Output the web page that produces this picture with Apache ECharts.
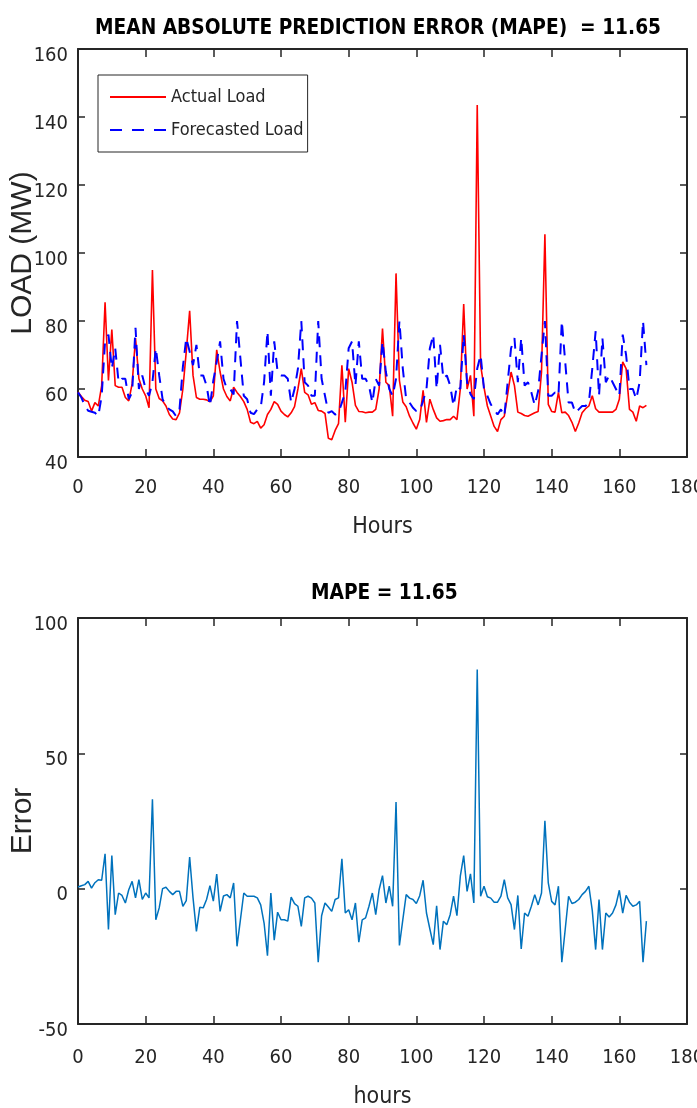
<!DOCTYPE html>
<html>
<head>
<meta charset="utf-8">
<script src="https://cdn.jsdelivr.net/npm/echarts@6/dist/echarts.min.js"></script>
<style>
  html, body { margin: 0; padding: 0; background: #fff; }
  #grafico { width: 697px; height: 1108px; }
</style>
</head>
<body>
<div id="grafico"></div>
<script>
// Valores (hora 0 .. 168)
var actualLoad = [
  59.1, 57.8, 56.7, 56.3, 53.5, 56, 55, 61, 85.5, 62.5,
  77.5, 61, 60.5, 60.5, 57.5, 56.5, 61.5, 75, 63, 60,
  58, 54.5, 95, 60, 57.2, 56.5, 55, 52.5, 51.2, 51,
  53, 60, 71, 83, 64, 57.5, 57, 57, 56.8, 56.2,
  58, 71.5, 65, 60, 57.8, 56.5, 60.5, 59, 57.8, 56.3,
  54, 50.2, 49.8, 50.5, 48.5, 49.5, 52.5, 54, 56.3, 55.5,
  53.5, 52.5, 51.8, 53, 54.8, 60, 66, 59, 58.3, 55.5,
  56, 53.7, 53.5, 52.8, 45.5, 45.1, 47.8, 49.8, 67, 50.2,
  66, 62, 55.2, 53.4, 53.3, 53, 53.2, 53.2, 54, 60,
  77.8, 62, 61, 52, 94, 62.5, 56.2, 54.8, 52, 50,
  48.2, 51, 59.6, 50.2, 57, 54, 51.5, 50.5, 50.7, 51,
  51, 52, 51, 60, 85, 60, 64, 52, 143.5, 67,
  60.5, 55, 52, 49, 47.5, 51, 52, 58.5, 65, 61,
  53.2, 52.8, 52.2, 52, 52.5, 53, 53.4, 65, 105.5, 55.5,
  53.4, 53.2, 59, 53, 53.2, 52.2, 50.2, 47.5, 50, 53,
  54.2, 55, 58, 54.2, 53.2, 53.2, 53.2, 53.2, 53.2, 54,
  57, 68, 66, 54, 53.2, 50.5, 55, 54.5, 55.2
];

var forecastLoad = [
  59, 57.5, 55.2, 53.6, 53.3, 53, 52, 58, 74, 76,
  66, 72, 62, 63, 63, 57, 59, 78, 60, 64,
  60, 58, 62, 72, 64, 57, 55, 54, 53.4, 52,
  54, 66.5, 75, 71, 67, 73, 64, 64, 61, 55,
  62.5, 68, 74, 63, 60, 60, 58.4, 80, 69, 58,
  57, 53, 52.6, 54, 54.5, 62, 77, 58, 74, 65,
  64, 64, 63, 56, 60, 66, 80, 62, 61, 58,
  58, 80, 63, 58, 53, 53.5, 52.5, 53, 56, 59,
  72, 74, 61, 74, 63, 63, 61, 56, 63, 61,
  74, 65, 60, 58, 63, 80, 66, 57, 56, 54.5,
  53.5, 53.5, 56.5, 60, 72, 76, 60, 73, 63, 64,
  61, 55, 61, 60, 76, 62, 58.5, 57, 66, 70,
  60, 58, 55.5, 54, 52.5, 54, 52, 62, 72, 75,
  62, 75, 61, 62, 59, 55.2, 59.4, 70, 80, 58,
  58, 59, 58, 80, 68, 56, 56, 53, 54, 55,
  55, 56, 66, 77, 58, 75, 62, 64, 62, 60,
  58, 76, 70, 60, 60, 57, 62, 80, 67
];

var errorValues = [
  0.6, 1.1, 1.5, 2.7, 0.2, 2.2, 3.3, 3.1, 12.9, -15.1,
  12.2, -9.6, -1.6, -2.5, -5.3, -0.4, 2.7, -3.4, 3.3, -4,
  -1.6, -3.4, 33, -11.5, -7.1, 0, 0.5, -1, -2.2, -1,
  -1, -6.5, -4.4, 11.7, -3.4, -15.8, -6.9, -7.1, -4, 1.1,
  -4.6, 5.4, -8.4, -2.7, -2.2, -3.4, 2.1, -21.3, -11.5, -1.6,
  -2.8, -2.8, -2.8, -3.4, -6, -12.7, -24.8, -1.6, -19, -8.7,
  -11.5, -11.5, -12, -3.1, -5.5, -6.5, -13.9, -3.4, -2.8, -3.5,
  -5.3, -27.2, -10, -5.3, -6.8, -8.4, -4, -3.4, 11, -9,
  -7.8, -11.5, -5.3, -19.8, -11.5, -10.8, -6.5, -1.6, -9.6, -0.4,
  4.8, -5.3, 0.9, -6.5, 32, -21, -11.5, -2.2, -3.5, -4,
  -5.5, -2.6, 3.1, -9, -14.9, -20.7, -6.3, -22.5, -12, -13.3,
  -9.6, -2.8, -10, 4.6, 12.2, -1, 5.5, -5.3, 81, -2.8,
  0.9, -3, -3.5, -5, -5, -2.8, 3.3, -3.4, -5.9, -15.1,
  -2.5, -22.3, -9, -10.2, -6.5, -2.2, -6, -1.6, 25.1, 2.1,
  -4.7, -6, 0.9, -27.2, -15.1, -2.8, -5.5, -5, -4, -2.2,
  -1, 0.9, -8, -22.5, -4, -22.5, -9, -10.5, -9, -6,
  -0.6, -9, -2.5, -5, -6.5, -6, -4.7, -27.2, -12
];

var hourTicks = [0, 180, 20];      // min, max, intervalo
var loadTicks = [40, 160, 20];
var errorTicks = [-50, 100, 50];

var NARROW = "'DejaVu Sans Condensed', 'Liberation Sans Narrow', sans-serif";
var REGULAR = "'Liberation Sans', Arial, sans-serif";
var AXIS_COLOR = "#262626";

function conHora(valores) {
  return valores.map(function (v, i) { return [i, v]; });
}

// Eje X inferior (con etiquetas) y superior (solo marcas) de cada grafico
function ejesX(grid, nombre, gap, margen) {
  var base = {
    gridIndex: grid,
    type: "value",
    min: hourTicks[0],
    max: hourTicks[1],
    interval: hourTicks[2],
    splitLine: { show: false },
    axisLine: { show: true, onZero: false, lineStyle: { color: AXIS_COLOR, width: 2 } },
    axisTick: { show: true, inside: true, length: 8, lineStyle: { color: AXIS_COLOR, width: 1.5 } },
  };
  var abajo = Object.assign({}, base, {
    position: "bottom",
    axisLabel: { fontFamily: NARROW, fontSize: 20, color: AXIS_COLOR, margin: margen },
    name: nombre,
    nameLocation: "middle",
    nameGap: gap,
    nameMoveOverlap: false,
    nameTextStyle: { fontFamily: NARROW, fontSize: 23, color: AXIS_COLOR },
  });
  var arriba = Object.assign({}, base, {
    position: "top",
    axisLabel: { show: false },
  });
  return [abajo, arriba];
}

// Eje Y izquierdo (con etiquetas) y derecho (solo marcas)
function ejesY(grid, ticks, nombre) {
  var base = {
    gridIndex: grid,
    type: "value",
    min: ticks[0],
    max: ticks[1],
    interval: ticks[2],
    splitLine: { show: false },
    axisLine: { show: true, onZero: false, lineStyle: { color: AXIS_COLOR, width: 2 } },
    axisTick: { show: true, inside: true, length: 7, lineStyle: { color: AXIS_COLOR, width: 1.5 } },
  };
  var izq = Object.assign({}, base, {
    position: "left",
    axisLabel: {
      margin: 10,
      formatter: "{v|{value}}",
      rich: {
        v: { fontFamily: NARROW, fontSize: 20, color: AXIS_COLOR, padding: [13, 0, 0, 0] },
      },
    },
    name: nombre,
    nameLocation: "middle",
    nameRotate: 90,
    nameGap: 40,
    nameMoveOverlap: false,
    nameTextStyle: { fontFamily: REGULAR, fontSize: 30, color: AXIS_COLOR },
  });
  var der = Object.assign({}, base, {
    position: "right",
    axisLabel: { show: false },
  });
  return [izq, der];
}

var option = {
  animation: false,
  backgroundColor: "#ffffff",
  title: [
    {
      text: "MEAN ABSOLUTE PREDICTION ERROR (MAPE)  = 11.65",
      left: 95,
      top: 18,
      padding: 0,
      textStyle: { fontFamily: NARROW, fontSize: 20.7, fontWeight: "bold", color: "#000" },
    },
    {
      text: "MAPE = 11.65",
      left: 311,
      top: 583,
      padding: 0,
      textStyle: { fontFamily: NARROW, fontSize: 20.7, fontWeight: "bold", color: "#000" },
    },
  ],
  legend: {
    data: [
      { name: "Actual Load", icon: "path://M0,0h56v2h-56z" },
      { name: "Forecasted Load", icon: "path://M0,0h12v2h-12zM22,0h12v2h-12zM44,0h12v2h-12z" },
    ],
    orient: "vertical",
    left: 98,
    top: 75,
    padding: [13, 4, 13, 12],
    itemGap: 15,
    itemWidth: 56,
    itemHeight: 2,
    backgroundColor: "#ffffff",
    borderColor: AXIS_COLOR,
    borderWidth: 1,
    borderRadius: 0,
    textStyle: { fontFamily: NARROW, fontSize: 18, color: AXIS_COLOR },
  },
  grid: [
    { left: 78, top: 49, width: 609, height: 408, containLabel: false, outerBoundsMode: "none" },
    { left: 78, top: 618, width: 609, height: 406, containLabel: false, outerBoundsMode: "none" },
  ],
  xAxis: ejesX(0, "Hours", 59, 21).concat(ejesX(1, "hours", 62, 24)),
  yAxis: ejesY(0, loadTicks, "LOAD (MW)").concat(ejesY(1, errorTicks, "Error")),
  series: [
    {
      name: "Actual Load",
      type: "line",
      xAxisIndex: 0,
      yAxisIndex: 0,
      data: conHora(actualLoad),
      symbol: "none",
      showSymbol: false,
      lineStyle: { color: "#ff0000", width: 1.6 },
      itemStyle: { color: "#ff0000" },
    },
    {
      name: "Forecasted Load",
      type: "line",
      xAxisIndex: 0,
      yAxisIndex: 0,
      data: conHora(forecastLoad),
      symbol: "none",
      showSymbol: false,
      lineStyle: { color: "#0000ff", width: 2, type: [11, 8] },
      itemStyle: { color: "#0000ff" },
    },
    {
      name: "Error",
      type: "line",
      xAxisIndex: 2,
      yAxisIndex: 2,
      data: conHora(errorValues),
      symbol: "none",
      showSymbol: false,
      lineStyle: { color: "#0072bd", width: 1.5 },
      itemStyle: { color: "#0072bd" },
    },
  ],
};

var chart = echarts.init(document.getElementById("grafico"), null, { renderer: "canvas" });
chart.setOption(option);
</script>
</body>
</html>
